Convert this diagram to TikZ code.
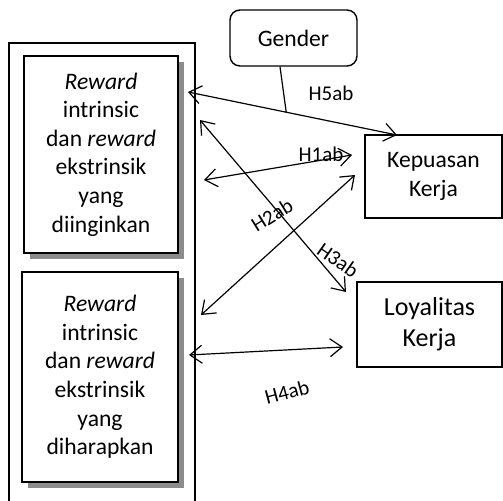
\documentclass[tikz,border=0pt]{standalone}
\usepackage{fontspec}
\setmainfont{Carlito}
\usetikzlibrary{arrows.meta, calc, shadows}

\begin{document}
\begin{tikzpicture}[
	x = 0.5pt, y = -0.5pt,
	> = {Straight Barb[length=6pt,width=9pt]},
	font = \fontsize{11.8}{14.3}\selectfont,
	reward/.style = {draw, line width=0.9pt, align=center, inner sep=0pt, fill=white,
		drop shadow={shadow xshift=3pt, shadow yshift=-3.2pt, fill=black!45, opacity=1}},
	outcome/.style = {draw, line width=0.7pt, align=center, inner sep=0pt, fill=white},
	hyp/.style = {font=\fontsize{10.5}{12}\selectfont, inner sep=0pt}
	]
	\useasboundingbox (0,0) rectangle (503,501);
	\draw[line width=1pt] (9,43) rectangle (195,515);

	% variables
	\node[reward, minimum width=77pt, minimum height=98.5pt] (want) at (101,154.5)
		{\textit{Reward}\\ intrinsic\\ dan \textit{reward}\\ ekstrinsik\\ yang\\ diinginkan};
	\node[reward, minimum width=78pt, minimum height=105pt] (hope) at (100,377)
		{\textit{Reward}\\ intrinsic\\ dan \textit{reward}\\ ekstrinsik\\ yang\\ diharapkan};
	\node[outcome, rounded corners=5pt, minimum width=63.5pt, minimum height=28pt] (gender) at (293.5,38) {Gender};
	\node[outcome, minimum width=68.5pt, minimum height=41.5pt] (kepuasan) at (433.5,176.5) {Kepuasan\\ Kerja};
	\node[outcome, minimum width=72.5pt, minimum height=42.5pt, font=\fontsize{13}{15.5}\selectfont] (loyal) at (429.5,324.5) {Loyalitas\\ Kerja};

	% arrow ends
	\coordinate (h5a) at (188,92);
	\coordinate (h5b) at (397,135);
	\coordinate (h1a) at (204,180);
	\coordinate (h1b) at (352,155);
	\coordinate (h3a) at (200,120);
	\coordinate (h3b) at (346,292);
	\coordinate (h2a) at (201,315);
	\coordinate (h2b) at (355,175);
	\coordinate (h4a) at (189,355);
	\coordinate (h4b) at (343,347);

	\path[<->, line width=0.6pt]
	(h5a) edge (h5b)
	(h1a) edge (h1b)
	(h3a) edge (h3b)
	(h2a) edge (h2b)
	(h4a) edge (h4b);
	\draw[line width=0.6pt] ([xshift=-6.75pt]gender.south) -- ($(h5a)!0.47!(h5b)$);

	% hypotheses
	\node[hyp] (l5) at (331,93) {H5ab};
	\node[hyp] (l1) at (321,154) {H1ab};
	\node[hyp, rotate=32] (l2) at (272,215) {H2ab};
	\node[hyp, rotate=-35] (l3) at (338,260) {H3ab};
	\node[hyp, rotate=15] (l4) at (287,392) {H4ab};
\end{tikzpicture}
\end{document}
